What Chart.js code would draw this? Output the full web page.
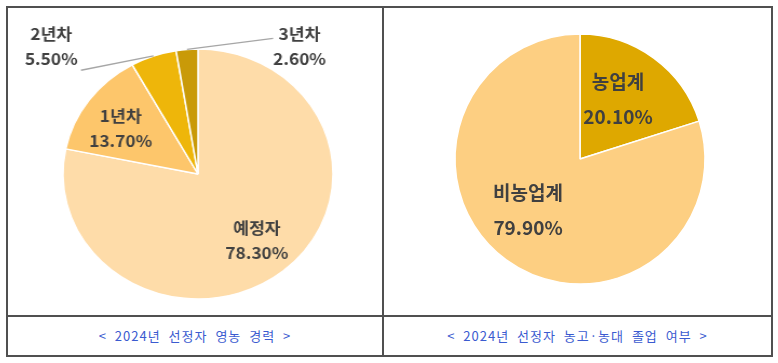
<!DOCTYPE html>
<html>
<head>
<meta charset="utf-8">
<script src="https://cdn.jsdelivr.net/npm/chart.js@4/dist/chart.umd.min.js"></script>
<style>
  html, body { margin: 0; padding: 0; background: #fff; }
  body { width: 778px; height: 363px; position: relative; overflow: hidden; }
  .line { position: absolute; background: #505050; }
  .wrap { position: absolute; width: 360px; height: 300px; }
  .caption {
    position: absolute; top: 326px; height: 20px; line-height: 20px;
    text-align: center; color: #3b5bd0;
    font: 13px "Noto Sans CJK KR", sans-serif; letter-spacing: 1px; word-spacing: 4px;
  }
</style>
</head>
<body>
<div class="wrap" id="careerWrap" style="left:17.5px; top:23.5px; transform: scaleX(1.08); transform-origin: 180px 150px;">
  <canvas id="career" width="360" height="300"></canvas>
</div>
<div class="wrap" style="left:400px; top:9px;">
  <canvas id="grad" width="360" height="300"></canvas>
</div>

<div class="line" style="left:6px; top:6px; width:767px; height:2px;"></div>
<div class="line" style="left:6px; top:355px; width:767px; height:2px;"></div>
<div class="line" style="left:6px; top:6px; width:2px; height:351px;"></div>
<div class="line" style="left:771px; top:6px; width:2px; height:351px;"></div>
<div class="line" style="left:382px; top:6px; width:2px; height:351px;"></div>
<div class="line" style="left:6px; top:315px; width:767px; height:2px;"></div>

<div class="caption" id="cap1" style="left:8px; width:374px;"></div>
<div class="caption" id="cap2" style="left:384px; width:387px;"></div>

<script>
const careerLabels = ["예정자", "1년차", "2년차", "3년차"];
const careerValues = [78.3, 13.7, 5.5, 2.6];
const careerColors = ["#FEDCA9", "#FDC66B", "#EEB60A", "#C99A08"];

const gradLabels = ["농업계", "비농업계"];
const gradValues = [20.1, 79.9];
const gradColors = ["#DEA800", "#FDCF82"];

const captions = ["< 2024년 선정자 영농 경력 >", "< 2024년 선정자 농고·농대 졸업 여부 >"];

document.getElementById("cap1").textContent = captions[0];
document.getElementById("cap2").textContent = captions[1];

// r = distance from centre as part of radius, shift = degrees clockwise from slice middle
const careerPlace = [
  { r: 0.69, shift: 0 },
  { r: 0.68, shift: -3.6 },
  { r: 1.49, shift: -27.6, lead: { r: 1.2, shift: -27 } },
  { r: 1.27, shift: 41, lead: { r: 1.22, shift: 31.8 } },
];
const gradPlace = [
  { r: 0.565, shift: -3.6 },
  { r: 0.585, shift: 9.1 },
];

const sliceLabels = {
  id: "sliceLabels",
  afterDatasetsDraw(chart, args, opts) {
    const ctx = chart.ctx;
    const meta = chart.getDatasetMeta(0);
    const values = chart.data.datasets[0].data;
    const deg = Math.PI / 180;
    meta.data.forEach(function (arc, i) {
      const p = arc.getProps(["x", "y", "startAngle", "endAngle", "outerRadius"]);
      const mid = (p.startAngle + p.endAngle) / 2;
      const place = opts.place[i];
      const R = p.outerRadius;
      if (place.lead) {
        const a = mid + place.lead.shift * deg;
        ctx.save();
        ctx.strokeStyle = "#a6a6a6";
        ctx.lineWidth = 1.3;
        ctx.beginPath();
        ctx.moveTo(p.x + Math.cos(mid) * R, p.y + Math.sin(mid) * R);
        ctx.lineTo(p.x + Math.cos(a) * R * place.lead.r, p.y + Math.sin(a) * R * place.lead.r);
        ctx.stroke();
        ctx.restore();
      }
      const a = mid + place.shift * deg;
      const x = p.x + Math.cos(a) * R * place.r;
      const y = p.y + Math.sin(a) * R * place.r;
      ctx.save();
      ctx.fillStyle = "#404040";
      ctx.textAlign = "center";
      ctx.textBaseline = "middle";
      ctx.font = "bold " + opts.size + "px 'Noto Sans CJK KR', sans-serif";
      ctx.fillText(chart.data.labels[i], x, y - opts.gap / 2);
      ctx.fillText(values[i].toFixed(2) + "%", x, y + opts.gap / 2);
      ctx.restore();
    });
  },
};

function pieConfig(labels, values, colors, place, size, gap) {
  return {
    type: "pie",
    data: {
      labels: labels,
      datasets: [
        {
          data: values,
          backgroundColor: colors,
          borderColor: "#ffffff",
          borderWidth: 1.5,
          radius: 125,
        },
      ],
    },
    options: {
      responsive: false,
      animation: false,
      layout: { padding: 0 },
      plugins: {
        legend: { display: false },
        tooltip: { enabled: false },
        sliceLabels: { place: place, size: size, gap: gap },
      },
    },
    plugins: [sliceLabels],
  };
}

new Chart(document.getElementById("career"),
  pieConfig(careerLabels, careerValues, careerColors, careerPlace, 16, 25));
new Chart(document.getElementById("grad"),
  pieConfig(gradLabels, gradValues, gradColors, gradPlace, 19, 35));
</script>
</body>
</html>
